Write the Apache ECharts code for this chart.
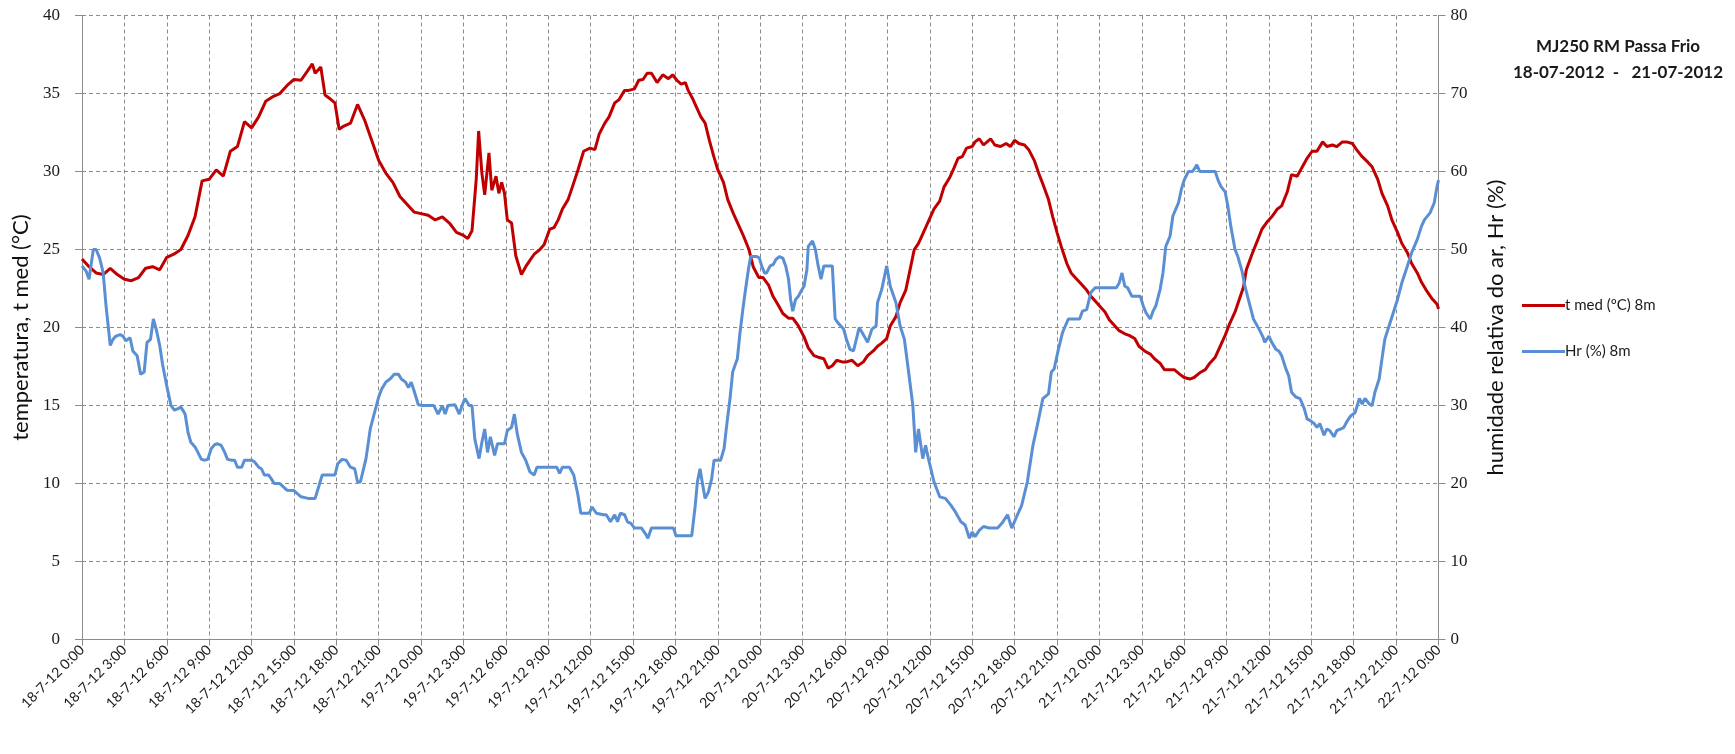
<!DOCTYPE html>
<html>
<head>
<meta charset="utf-8">
<script src="https://cdn.jsdelivr.net/npm/echarts@6/dist/echarts.min.js"></script>
<style>
html,body{margin:0;padding:0;background:#fff;}
#chart{width:1735px;height:754px;}
</style>
</head>
<body>
<div id="chart"></div>
<script>
// Hours since 18-7-12 0:00 and temperature (°C) readings
const tHours = [0,0.5,1,1.5,2,2.5,3,3.5,4,4.5,5,5.5,6,6.5,7,7.5,8,8.5,9,9.5,10,10.5,11,11.5,12,12.5,13,13.5,14,14.5,15,15.5,16,16.3,16.5,16.9,17.2,17.5,17.9,18.2,18.5,19,19.5,20,20.5,21,21.5,22,22.5,23,23.5,24,24.5,25,25.5,26,26.5,27,27.3,27.6,27.9,28.07,28.3,28.5,28.8,29.0,29.3,29.5,29.7,29.9,30.1,30.4,30.7,31.1,31.4,31.7,32.0,32.4,32.7,33.1,33.4,33.7,34.0,34.4,34.7,35.1,35.5,35.95,36.3,36.6,37.0,37.3,37.7,38.0,38.4,38.7,39.1,39.4,39.7,40.0,40.3,40.7,41.1,41.5,41.8,42.1,42.4,42.7,42.9,43.2,43.5,43.8,44.1,44.4,44.7,45.0,45.4,45.7,46.1,46.5,46.8,47.2,47.5,47.9,48.2,48.6,48.9,49.3,49.6,50.0,50.3,50.7,51.1,51.4,51.8,52.1,52.5,52.8,53.1,53.4,53.8,54.1,54.5,54.9,55.3,55.6,56.0,56.3,56.6,56.95,57.2,57.6,57.9,58.3,58.6,58.9,59.2,59.6,59.9,60.3,60.7,61.0,61.4,61.7,62.0,62.3,62.6,63.0,63.2,63.5,63.8,64.3,64.6,65.0,65.4,65.7,66.0,66.3,66.7,67.0,67.4,67.7,68.0,68.4,68.7,69.0,69.3,69.7,70.0,70.4,70.7,71.1,71.4,71.8,72.0,72.4,72.7,73.1,73.4,73.8,74.1,74.5,74.8,75.2,75.6,75.9,76.3,76.6,77.0,77.3,77.7,78.0,78.4,78.7,79.1,79.5,79.8,80.2,80.5,80.9,81.2,81.6,81.9,82.2,82.4,82.8,83.2,83.5,83.9,84.2,84.6,84.9,85.3,85.6,86.0,86.3,86.7,87.05,87.4,87.8,88.1,88.5,88.8,89.2,89.5,89.9,90.2,90.6,91.0,91.3,91.7,92.0,92.4,92.7,93.1,93.4,93.8,94.1,94.5,94.8,95.2,95.5,95.9,96.0];
const tValues = [24.4,23.9,23.5,23.4,23.8,23.4,23.1,23.0,23.2,23.8,23.9,23.7,24.5,24.7,25.0,25.9,27.1,29.4,29.5,30.1,29.7,31.3,31.6,33.2,32.8,33.5,34.5,34.8,35.0,35.5,35.9,35.85,36.5,36.9,36.3,36.7,34.9,34.7,34.4,32.7,32.9,33.1,34.3,33.3,32.0,30.7,29.9,29.3,28.4,27.9,27.4,27.3,27.2,26.9,27.1,26.7,26.1,25.9,25.7,26.2,29.5,32.6,29.9,28.5,31.2,28.8,29.7,28.6,29.3,28.6,26.9,26.7,24.6,23.4,23.9,24.3,24.7,25.0,25.3,26.3,26.4,26.9,27.6,28.2,29.0,30.1,31.3,31.5,31.4,32.4,33.1,33.5,34.4,34.6,35.2,35.2,35.3,35.85,35.9,36.3,36.3,35.7,36.2,35.95,36.2,35.85,35.6,35.7,35.2,34.7,34.1,33.5,33.1,32.0,31.0,30.1,29.3,28.2,27.3,26.5,25.9,25.0,23.9,23.2,23.2,22.7,22.0,21.4,20.9,20.6,20.6,20.1,19.4,18.7,18.2,18.1,18.0,17.4,17.55,17.9,17.8,17.8,17.9,17.55,17.8,18.2,18.5,18.8,19.0,19.3,20.1,20.7,21.6,22.4,23.7,25.0,25.4,26.2,26.8,27.6,28.1,29.0,29.6,30.2,30.85,30.95,31.5,31.6,31.9,32.1,31.7,32.1,31.7,31.6,31.8,31.6,32.0,31.8,31.7,31.4,30.7,29.9,29.2,28.2,27.1,26.1,25.2,24.1,23.5,23.1,22.8,22.4,22.0,21.6,21.4,21.0,20.5,20.1,19.8,19.6,19.5,19.3,18.8,18.5,18.3,18.0,17.7,17.3,17.3,17.3,17.0,16.8,16.7,16.8,17.1,17.3,17.7,18.1,18.7,19.5,20.2,21.0,21.8,22.6,23.7,24.7,25.6,26.3,26.8,27.1,27.6,27.8,28.7,29.8,29.7,30.2,30.85,31.3,31.3,31.9,31.6,31.7,31.6,31.9,31.9,31.8,31.4,30.95,30.6,30.3,29.5,28.6,27.8,26.9,26.1,25.4,24.8,24.1,23.5,22.9,22.3,21.9,21.5,21.2];

// Hours since 18-7-12 0:00 and relative humidity (%) readings
const hHours = [0,0.3,0.5,0.8,1.0,1.25,1.5,1.7,2.0,2.2,2.4,2.7,2.9,3.1,3.4,3.6,3.9,4.15,4.4,4.6,4.85,5.05,5.25,5.5,5.7,6.0,6.3,6.55,6.8,7.0,7.3,7.5,7.7,8.0,8.2,8.45,8.7,8.9,9.15,9.4,9.6,9.85,10.1,10.3,10.6,10.8,11.0,11.3,11.5,11.75,12.0,12.2,12.5,12.7,12.9,13.2,13.4,13.6,14.0,14.5,15.0,15.5,16.0,16.5,16.75,17.0,17.5,17.9,18.1,18.4,18.7,19.0,19.3,19.5,19.7,20.1,20.4,20.7,21.0,21.2,21.5,21.8,22.1,22.4,22.6,22.9,23.1,23.3,23.5,23.8,24.1,24.6,24.9,25.2,25.5,25.7,25.9,26.4,26.7,26.9,27.1,27.4,27.6,27.8,28.1,28.3,28.5,28.7,28.9,29.2,29.4,29.9,30.1,30.4,30.6,30.8,31.1,31.4,31.7,32.0,32.2,33.6,33.8,34.0,34.5,34.8,35.1,35.3,35.9,36.1,36.4,36.9,37.1,37.4,37.7,37.9,38.1,38.4,38.6,38.85,39.1,39.6,39.9,40.05,40.3,41.85,42.04,43.15,43.4,43.55,43.74,43.93,44.1,44.33,44.56,44.73,45.2,45.44,45.62,45.86,46.05,46.2,46.38,46.57,46.8,46.99,47.16,47.32,47.75,47.94,48.1,48.3,48.45,48.7,48.93,49.1,49.35,49.6,49.8,50.0,50.15,50.3,50.5,50.7,50.9,51.1,51.3,51.4,51.7,51.9,52.1,52.3,52.5,53.1,53.3,53.5,53.7,53.9,54.1,54.35,54.6,54.8,55.0,55.2,55.6,55.9,56.2,56.3,56.6,56.95,57.2,57.6,57.9,58.2,58.5,58.8,59.0,59.2,59.5,59.7,59.9,60.3,60.7,61.1,61.5,61.8,62.2,62.5,62.8,63.0,63.2,63.5,63.8,64.2,64.8,65.1,65.5,65.8,66.2,66.5,66.9,67.3,67.6,68.0,68.4,68.6,68.8,69.1,69.4,69.8,70.6,70.8,71.1,71.4,71.7,73.2,73.4,73.6,73.8,74.0,74.3,74.9,75.1,75.3,75.6,75.8,76.0,76.3,76.5,76.7,77.0,77.2,77.6,77.8,78.0,78.3,78.6,78.9,79.1,80.2,80.4,80.6,80.9,81.1,81.3,81.6,81.8,82.1,82.3,82.6,82.9,83.3,83.6,83.7,84.0,84.2,84.5,84.7,84.9,85.2,85.4,85.6,85.9,86.2,86.5,86.7,86.9,87.2,87.4,87.6,87.9,88.1,88.3,88.6,88.8,89.1,89.3,89.5,89.8,90.1,90.4,90.6,90.8,91.1,91.3,91.5,91.8,92.0,92.2,92.5,92.8,93.1,93.4,93.8,94.1,94.5,94.8,95.0,95.4,95.7,95.9,96.0];
const hValues = [47.9,47.2,46.2,50.0,50.0,48.9,47.0,42.8,37.7,38.5,38.9,39.1,38.9,38.3,38.7,37.0,36.4,34.0,34.3,38.1,38.5,41.1,39.8,37.7,35.3,32.5,30.0,29.4,29.6,29.8,28.9,26.6,25.3,24.7,24.0,23.1,23.0,23.1,24.5,25.0,25.1,24.9,24.0,23.1,23.0,23.0,22.1,22.1,23.0,23.0,23.0,22.8,22.1,21.9,21.1,21.1,20.6,20.0,20.0,19.15,19.1,18.3,18.1,18.1,19.6,21.1,21.1,21.1,22.55,23.1,23.0,22.1,21.9,20.2,20.2,23.2,27.0,29.1,31.1,32.1,33.0,33.4,34.0,34.0,33.4,33.0,32.3,33.0,31.9,30.1,30.0,30.0,30.0,28.9,30.0,28.9,30.0,30.1,28.9,30.0,30.9,30.0,30.0,25.7,23.2,25.3,27.0,24.0,26.0,23.6,25.1,25.1,26.8,27.2,28.9,26.4,24.0,23.0,21.5,21.1,22.1,22.1,21.3,22.1,22.1,21.1,18.5,16.2,16.2,17.0,16.2,16.0,16.0,15.1,16.0,15.1,16.2,16.0,15.1,14.9,14.3,14.3,13.5,13.0,14.3,14.3,13.3,13.3,17.2,20.2,21.9,19.8,18.1,18.9,20.6,23.0,23.0,24.5,27.4,30.9,34.3,35.1,36.0,39.4,42.8,45.3,47.4,49.1,49.1,48.9,47.9,47.0,47.0,47.9,48.1,48.7,49.1,48.9,47.9,46.2,43.6,42.1,43.6,44.0,44.7,45.3,47.4,50.4,51.1,50.0,47.9,46.2,47.9,47.9,41.1,40.6,40.2,39.8,38.5,37.2,37.0,38.5,40.0,39.4,38.1,39.8,40.2,43.2,44.9,47.9,45.3,43.2,40.2,38.5,34.3,30.0,24.0,27.0,23.2,24.9,23.2,20.2,18.3,18.1,17.2,16.4,15.1,14.7,13.0,13.8,13.2,14.0,14.5,14.3,14.3,14.9,16.0,14.3,16.0,17.2,20.2,24.9,27.4,30.9,31.5,34.3,34.7,37.2,39.4,41.1,41.1,42.1,42.3,44.5,45.1,45.1,45.7,47.0,45.3,45.1,44.0,44.0,42.8,41.9,41.1,42.1,42.8,44.9,47.0,50.4,51.7,54.3,56.0,57.7,58.9,60.0,60.0,60.85,60.0,60.0,58.9,58.1,57.4,55.5,53.0,50.0,49.1,47.2,45.3,43.2,41.1,39.8,38.7,38.1,38.9,38.1,37.2,37.0,36.4,34.7,33.8,31.7,31.1,30.9,29.6,28.3,28.1,27.7,27.2,27.7,26.2,27.0,26.8,26.0,26.8,27.0,27.2,27.9,28.7,29.1,30.9,30.2,30.9,30.2,30.0,31.7,33.4,36.0,38.5,40.2,41.9,43.6,45.7,47.9,49.6,51.3,53.0,53.8,54.7,56.0,58.1,58.9];

// Tick labels, one every 3 hours
const tickLabels = ["18-7-12 0:00","18-7-12 3:00","18-7-12 6:00","18-7-12 9:00","18-7-12 12:00","18-7-12 15:00","18-7-12 18:00","18-7-12 21:00",
"19-7-12 0:00","19-7-12 3:00","19-7-12 6:00","19-7-12 9:00","19-7-12 12:00","19-7-12 15:00","19-7-12 18:00","19-7-12 21:00",
"20-7-12 0:00","20-7-12 3:00","20-7-12 6:00","20-7-12 9:00","20-7-12 12:00","20-7-12 15:00","20-7-12 18:00","20-7-12 21:00",
"21-7-12 0:00","21-7-12 3:00","21-7-12 6:00","21-7-12 9:00","21-7-12 12:00","21-7-12 15:00","21-7-12 18:00","21-7-12 21:00",
"22-7-12 0:00"];

const seriesNames = ["t med (ºC) 8m", "Hr (%) 8m"];
const titleLines = ["MJ250 RM Passa Frio", "18-07-2012  -   21-07-2012"];

const tData = tHours.map((h, i) => [h, tValues[i]]);
const hData = hHours.map((h, i) => [h, hValues[i]]);

const chart = echarts.init(document.getElementById('chart'), null, {renderer: 'canvas'});
const sans = 'Lato, "Liberation Sans", sans-serif';
const serif = '"Liberation Serif", "DejaVu Serif", serif';
const gridColor = '#8c8c8c';

chart.setOption({
  animation: false,
  backgroundColor: '#ffffff',
  grid: {left: 82, right: 296.5, top: 15.5, bottom: 114.4, containLabel: false},
  graphic: [
    {type: 'text', x: 1618, y: 47, style: {text: titleLines[0], textAlign: 'center', textVerticalAlign: 'middle', font: 'bold 17px ' + sans, fill: '#1a1a1a'}},
    {type: 'text', x: 1618, y: 73, style: {text: titleLines[1], textAlign: 'center', textVerticalAlign: 'middle', font: 'bold 17px ' + sans, fill: '#1a1a1a'}}
  ],
  legend: {
    orient: 'vertical',
    left: 1517,
    top: 293,
    itemWidth: 43,
    itemHeight: 3,
    itemGap: 31,
    icon: 'rect',
    textStyle: {fontFamily: sans, fontSize: 15, color: '#1a1a1a', padding: [0,0,0,-5]},
    data: seriesNames
  },
  xAxis: {
    type: 'value',
    min: 0, max: 96, interval: 3,
    axisLine: {show: true, lineStyle: {color: gridColor, width: 1}},
    axisTick: {show: true, length: 6, lineStyle: {color: gridColor}},
    splitLine: {show: true, lineStyle: {color: gridColor, type: [4, 3], width: 1}},
    axisLabel: {
      rotate: 45, margin: 8, fontFamily: sans, fontSize: 14, color: '#1a1a1a',
      formatter: v => tickLabels[Math.round(v / 3)]
    }
  },
  yAxis: [
    {
      type: 'value', min: 0, max: 40, interval: 5, position: 'left',
      name: 'temperatura, t med (°C)', nameLocation: 'middle', nameRotate: 90, nameGap: 38,
      nameTextStyle: {fontFamily: sans, fontSize: 22, color: '#111'},
      axisLine: {show: true, lineStyle: {color: gridColor}},
      axisTick: {show: true, length: 7, lineStyle: {color: gridColor}},
      splitLine: {show: true, lineStyle: {color: gridColor, type: [4, 3], width: 1}},
      axisLabel: {margin: 22, fontFamily: serif, fontSize: 17, color: '#1a1a1a'}
    },
    {
      type: 'value', min: 0, max: 80, interval: 10, position: 'right',
      name: 'humidade relativa do ar, Hr (%)', nameLocation: 'middle', nameRotate: 90, nameGap: 46,
      nameTextStyle: {fontFamily: sans, fontSize: 22, color: '#111'},
      axisLine: {show: true, lineStyle: {color: gridColor}},
      axisTick: {show: true, length: 7, lineStyle: {color: gridColor}},
      splitLine: {show: false},
      axisLabel: {margin: 12, fontFamily: serif, fontSize: 17, color: '#1a1a1a'}
    }
  ],
  series: [
    {
      name: seriesNames[0], type: 'line', yAxisIndex: 0, data: tData,
      showSymbol: false, symbol: 'none', smooth: false,
      lineStyle: {color: '#C00000', width: 3}, itemStyle: {color: '#C00000'}
    },
    {
      name: seriesNames[1], type: 'line', yAxisIndex: 1, data: hData,
      showSymbol: false, symbol: 'none', smooth: false,
      lineStyle: {color: '#5A8FD3', width: 3}, itemStyle: {color: '#5A8FD3'}
    }
  ]
});
</script>
</body>
</html>
